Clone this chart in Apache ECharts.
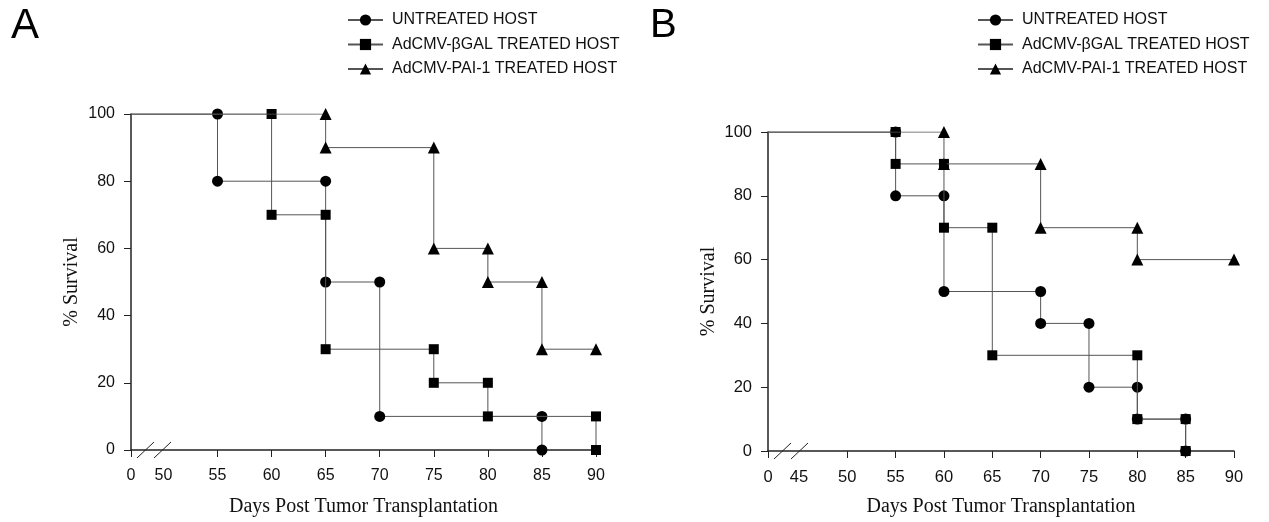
<!DOCTYPE html>
<html>
<head>
<meta charset="utf-8">
<script src="https://cdn.jsdelivr.net/npm/echarts@6.0.0/dist/echarts.min.js"></script>
<style>
  html, body { margin: 0; padding: 0; background: #fff; }
  #chart { width: 1269px; height: 522px; }
</style>
</head>
<body>
<div id="chart"></div>
<script>
// series names
const seriesNames = ["UNTREATED HOST", "AdCMV-\u03b2GAL TREATED HOST", "AdCMV-PAI-1 TREATED HOST"];

// panel A (day, % survival) corner points of the step curves
const untreatedA = [[55,100],[55,80],[65,80],[65,50],[70,50],[70,10],[85,10],[85,0]];
const bgalA = [[60,100],[60,70],[65,70],[65,30],[75,30],[75,20],[80,20],[80,10],[90,10],[90,0]];
const pai1A = [[65,100],[65,90],[75,90],[75,60],[80,60],[80,50],[85,50],[85,30],[90,30]];

// panel B
const untreatedB = [[55,100],[55,80],[60,80],[60,50],[70,50],[70,40],[75,40],[75,20],[80,20],[80,10],[85,10],[85,0]];
const bgalB = [[55,100],[55,90],[60,90],[60,70],[65,70],[65,30],[80,30],[80,10],[85,10],[85,0]];
const pai1B = [[60,100],[60,90],[70,90],[70,70],[80,70],[80,60],[90,60]];

// x axis: broken axis, "0" drawn at the axis start
const xStartA = 47, xStartB = 41.8;
const labelDaysA = [50,55,60,65,70,75,80,85,90];
const tickDaysA = [55,60,65,70,75,80,85,90];
const labelDaysB = [45,50,55,60,65,70,75,80,85,90];
const tickDaysB = [50,55,60,65,70,75,80,85,90];

const symbols = ["circle", "rect", "triangle"];
const symbolSizes = [11, 10, 12];

var chart = echarts.init(document.getElementById("chart"));

function makeSeries(i, pts, xStart, idx) {
  return {
    name: seriesNames[i],
    type: "line",
    xAxisIndex: idx,
    yAxisIndex: idx,
    data: [{ value: [xStart, 100], symbol: "none" }].concat(pts),
    symbol: symbols[i],
    symbolSize: symbolSizes[i],
    showAllSymbol: true,
    lineStyle: { color: "#555", width: 1 },
    itemStyle: { color: "#000" },
    z: 3 + i,
    animation: false
  };
}

function xAxisFor(idx, xStart, labelDays, tickDays, fs, gap) {
  return {
    type: "value",
    gridIndex: idx,
    min: xStart,
    max: 90,
    name: "Days Post Tumor Transplantation",
    nameLocation: "middle",
    nameGap: gap,
    nameTextStyle: { fontFamily: "Liberation Serif", fontSize: 20, color: "#111" },
    axisLine: { show: true, lineStyle: { color: "#222", width: 1.5 } },
    axisTick: { show: true, length: 7, customValues: [xStart].concat(tickDays), lineStyle: { color: "#222", width: 1 } },
    axisLabel: {
      customValues: [xStart].concat(labelDays),
      margin: 18,
      fontFamily: "Liberation Sans",
      fontSize: fs,
      color: "#111",
      formatter: function (v) { return Math.abs(v - xStart) < 0.01 ? "0" : String(v); }
    },
    splitLine: { show: false }
  };
}

function yAxisFor(idx, fs) {
  return {
    type: "value",
    gridIndex: idx,
    min: 0,
    max: 100,
    interval: 20,
    name: "% Survival",
    nameLocation: "middle",
    nameGap: 49,
    nameTextStyle: { fontFamily: "Liberation Serif", fontSize: 20, color: "#111" },
    axisLine: { show: true, lineStyle: { color: "#222", width: 1.5 } },
    axisTick: { show: true, length: 7, lineStyle: { color: "#222", width: 1 } },
    axisLabel: { margin: 16, fontFamily: "Liberation Sans", fontSize: fs, color: "#111" },
    splitLine: { show: false }
  };
}

function legendAt(left) {
  return {
    orient: "vertical",
    left: left,
    top: 7,
    itemWidth: 35,
    itemHeight: 14,
    itemGap: 8.5,
    data: seriesNames,
    selectedMode: false,
    textStyle: { fontFamily: "Liberation Sans", fontSize: 16, color: "#111", padding: [0, 0, 0, 4] }
  };
}

option = {
  backgroundColor: "#fff",
  animation: false,
  title: [
    { text: "A", left: 11, top: 5, padding: 0, textStyle: { fontFamily: "Liberation Sans", fontSize: 42, fontWeight: "normal", color: "#000" } },
    { text: "B", left: 650, top: 6, padding: 0, textStyle: { fontFamily: "Liberation Sans", fontSize: 40, fontWeight: "normal", color: "#000" } }
  ],
  legend: [legendAt(342), legendAt(972)],
  grid: [
    { left: 131, top: 114, width: 465, height: 336 },
    { left: 768, top: 132, width: 466, height: 320 }
  ],
  xAxis: [
    xAxisFor(0, xStartA, labelDaysA, tickDaysA, 16, 47),
    xAxisFor(1, xStartB, labelDaysB, tickDaysB, 16.5, 46)
  ],
  yAxis: [yAxisFor(0, 16), yAxisFor(1, 16.5)],
  series: [
    makeSeries(0, untreatedA, xStartA, 0),
    makeSeries(1, bgalA, xStartA, 0),
    makeSeries(2, pai1A, xStartA, 0),
    makeSeries(0, untreatedB, xStartB, 1),
    makeSeries(1, bgalB, xStartB, 1),
    makeSeries(2, pai1B, xStartB, 1)
  ]
};
chart.setOption(option);

// "//" axis break marks next to the origin of each panel
var marks = [];
[[0, xStartA], [1, xStartB]].forEach(function (p) {
  var o = chart.convertToPixel({ gridIndex: p[0] }, [p[1], 0]);
  [[6, 23], [23, 40]].forEach(function (s) {
    marks.push({
      type: "line",
      shape: { x1: o[0] + s[0], y1: o[1] + 8, x2: o[0] + s[1], y2: o[1] - 8 },
      style: { stroke: "#222", lineWidth: 1 },
      z: 10
    });
  });
});
chart.setOption({ graphic: marks });
</script>
</body>
</html>
